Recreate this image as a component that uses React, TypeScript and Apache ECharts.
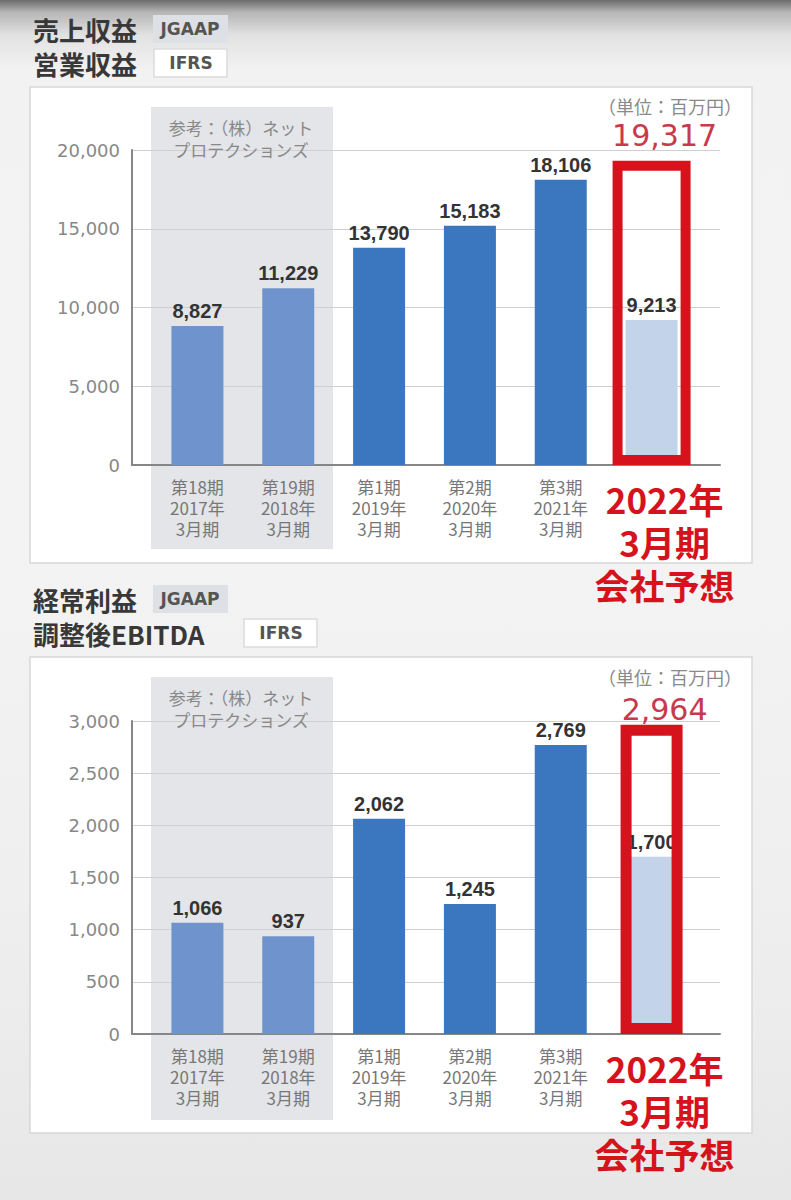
import React, { useEffect, useRef } from 'react';
import * as echarts from 'echarts';

// ---------- data ----------
const categories = [
  '第18期\n2017年\n3月期',
  '第19期\n2018年\n3月期',
  '第1期\n2019年\n3月期',
  '第2期\n2020年\n3月期',
  '第3期\n2021年\n3月期',
];
const forecastCategory = '2022年\n3月期\n会社予想';
const barKinds = ['ref', 'ref', 'actual', 'actual', 'actual', 'forecast'];

const revenueValues = [8827, 11229, 13790, 15183, 18106, 9213];
const revenueForecast = 19317;
const revenueMax = 20000;
const revenueInterval = 5000;

const ebitdaValues = [1066, 937, 2062, 1245, 2769, 1700];
const ebitdaForecast = 2964;
const ebitdaMax = 3000;
const ebitdaInterval = 500;

const topTitles = ['売上収益', '営業収益'];
const bottomTitles = ['経常利益', '調整後EBITDA'];
const badges = ['JGAAP', 'IFRS'];
const bandText = ['参考：（株）ネット', 'プロテクションズ'];
const unitText = '（単位：百万円）';

// ---------- styles ----------
const kindColor: Record<string, string> = {
  ref: '#6f93cc',
  actual: '#3a77be',
  forecast: '#c3d4ea',
};
const RED = '#d6131d';
const CJK = '"Noto Sans CJK JP", "Noto Sans", sans-serif';
const fmt = (v: number) => Number(v).toLocaleString('en-US');

function buildChart(
  k: number,
  top: number,
  height: number,
  values: number[],
  forecast: number,
  max: number,
  interval: number,
  boxWidth: number,
  boxBorder: number,
  forecastLabelDistance: number
) {
  const gFrame = 2 * k;
  const gBars = 2 * k + 1;
  const grids = [
    { left: 132, top, width: 588, height },
    { left: 152, top, width: 545, height },
  ];
  const axisLineStyle = { color: '#868686', width: 2 };
  const catData: any[] = categories.map((c) => c);
  catData.push({
    value: forecastCategory,
    textStyle: {
      color: RED,
      fontSize: 35,
      fontWeight: 'bold',
      lineHeight: 43,
      fontFamily: CJK,
      padding: [1, 0, 0, 26],
    },
  });
  const xAxes = [
    {
      gridIndex: gFrame,
      type: 'value',
      min: 0,
      max: 1,
      axisLine: { show: true, lineStyle: axisLineStyle },
      axisTick: { show: false },
      axisLabel: { show: false },
      splitLine: { show: false },
    },
    {
      gridIndex: gBars,
      type: 'category',
      data: catData,
      axisLine: { show: false },
      axisTick: { show: false },
      axisLabel: {
        interval: 0,
        margin: 11,
        color: '#777',
        fontSize: 17,
        lineHeight: 21,
        fontFamily: CJK,
      },
    },
    {
      gridIndex: gBars,
      type: 'category',
      data: catData.map((_, i) => String(i)),
      show: false,
    },
  ];
  const yAxes = [
    {
      gridIndex: gFrame,
      type: 'value',
      min: 0,
      max,
      interval,
      axisLine: { show: true, lineStyle: axisLineStyle },
      axisTick: { show: false },
      axisLabel: {
        margin: 12,
        color: '#888',
        fontSize: 18,
        fontFamily: '"DejaVu Sans", sans-serif',
        formatter: (v: number) => fmt(v),
      },
      splitLine: { show: true, lineStyle: { color: '#cfcfcf', width: 1 } },
    },
    {
      gridIndex: gBars,
      type: 'value',
      min: 0,
      max,
      interval,
      show: false,
      splitLine: { show: false },
    },
  ];
  const xBase = 3 * k;
  const yBase = 2 * k;
  const series = [
    {
      type: 'bar',
      xAxisIndex: xBase + 1,
      yAxisIndex: yBase + 1,
      barWidth: 52,
      z: 3,
      data: values.map((v, i) => ({
        value: v,
        itemStyle: { color: kindColor[barKinds[i]] },
      })),
      label: {
        show: true,
        position: 'top',
        distance: 5,
        color: '#333',
        fontSize: 20,
        fontWeight: 'bold',
        fontFamily: '"Liberation Sans", Arial, sans-serif',
        formatter: (p: any) => fmt(p.value),
      },
    },
    {
      type: 'bar',
      xAxisIndex: xBase + 2,
      yAxisIndex: yBase + 1,
      barWidth: boxWidth,
      z: 4,
      data: barKinds.map((kind) => (kind === 'forecast' ? forecast : '-')),
      itemStyle: {
        color: 'rgba(0,0,0,0)',
        borderColor: RED,
        borderWidth: boxBorder,
      },
      label: {
        show: true,
        position: 'top',
        distance: forecastLabelDistance,
        color: '#c83a4b',
        fontSize: 30,
        fontFamily: '"DejaVu Sans", sans-serif',
        padding: [0, 0, 0, 26],
        formatter: (p: any) => fmt(p.value),
      },
    },
  ];
  return { grids, xAxes, yAxes, series };
}

function header(
  titles: string[],
  y1: number,
  y2: number,
  badge2X: number
): any[] {
  const titleFont = `bold 26px ${CJK}`;
  const badgeFont = 'bold 17px "DejaVu Sans", sans-serif';
  return [
    {
      type: 'text',
      z: 20,
      style: { text: titles[0], x: 33, y: y1, font: titleFont, fill: '#383838', verticalAlign: 'middle', textVerticalAlign: 'middle' },
    },
    {
      type: 'text',
      z: 20,
      style: { text: titles[1], x: 33, y: y2, font: titleFont, fill: '#383838', verticalAlign: 'middle', textVerticalAlign: 'middle' },
    },
    {
      type: 'rect',
      z: 10,
      shape: { x: 153, y: y1 - 14, width: 75, height: 28 },
      style: { fill: '#dde0e4' },
    },
    {
      type: 'text',
      z: 20,
      style: { text: badges[0], x: 190, y: y1, font: badgeFont, fill: '#555', align: 'center', textAlign: 'center', verticalAlign: 'middle', textVerticalAlign: 'middle' },
    },
    {
      type: 'rect',
      z: 10,
      shape: { x: badge2X, y: y2 - 14, width: 73, height: 28 },
      style: { fill: '#ffffff', stroke: '#dcdcdc', lineWidth: 1.5 },
    },
    {
      type: 'text',
      z: 20,
      style: { text: badges[1], x: badge2X + 37, y: y2, font: badgeFont, fill: '#555', align: 'center', textAlign: 'center', verticalAlign: 'middle', textVerticalAlign: 'middle' },
    },
  ];
}

function panel(y: number, h: number, bandY: number, bandH: number, unitY: number): any[] {
  const bandFont = `17px ${CJK}`;
  const unitFont = `18px ${CJK}`;
  return [
    {
      type: 'rect',
      z: -10,
      shape: { x: 30, y, width: 722, height: h },
      style: { fill: '#ffffff', stroke: '#d8d8d8', lineWidth: 1.5 },
    },
    {
      type: 'rect',
      z: -9,
      shape: { x: 151, y: bandY, width: 182, height: bandH },
      style: { fill: '#e3e5e8' },
    },
    {
      type: 'text',
      z: 20,
      style: { text: bandText[0], x: 241, y: bandY + 20, font: bandFont, fill: '#888', align: 'center', textAlign: 'center', verticalAlign: 'middle', textVerticalAlign: 'middle' },
    },
    {
      type: 'text',
      z: 20,
      style: { text: bandText[1], x: 241, y: bandY + 42, font: bandFont, fill: '#888', align: 'center', textAlign: 'center', verticalAlign: 'middle', textVerticalAlign: 'middle' },
    },
    {
      type: 'text',
      z: 20,
      style: { text: unitText, x: 742, y: unitY, font: unitFont, fill: '#8a8a8a', align: 'right', textAlign: 'right', verticalAlign: 'middle', textVerticalAlign: 'middle' },
    },
  ];
}

export default function App() {
  const ref = useRef<HTMLDivElement>(null);
  useEffect(() => {
    if (!ref.current) return;
    const chart = echarts.init(ref.current, null, { renderer: 'svg' });
    const a = buildChart(0, 150, 315, revenueValues, revenueForecast, revenueMax, revenueInterval, 78, 10, 10);
    const b = buildChart(1, 721, 313, ebitdaValues, ebitdaForecast, ebitdaMax, ebitdaInterval, 62, 11, 0);
    const option: any = {
      animation: false,
      backgroundColor: 'transparent',
      grid: [...a.grids, ...b.grids],
      xAxis: [...a.xAxes, ...b.xAxes],
      yAxis: [...a.yAxes, ...b.yAxes],
      series: [...a.series, ...b.series],
      graphic: [
        ...panel(87, 476, 107, 442, 106),
        ...panel(657, 476, 677, 443, 677),
        ...header(topTitles, 29, 63, 154),
        ...header(bottomTitles, 599, 633, 244),
      ],
    };
    chart.setOption(option);
    return () => chart.dispose();
  }, []);
  return (
    <div
      ref={ref}
      style={{
        position: 'absolute',
        left: 0,
        top: 0,
        width: 791,
        height: 1200,
        background:
          'linear-gradient(180deg, #6b6b6b 0px, #b5b5b5 12px, #e2e2e2 35px, #f2f2f2 70px, #f3f3f3 560px, #efefef 900px, #e7e7e7 1200px)',
      }}
    />
  );
}
